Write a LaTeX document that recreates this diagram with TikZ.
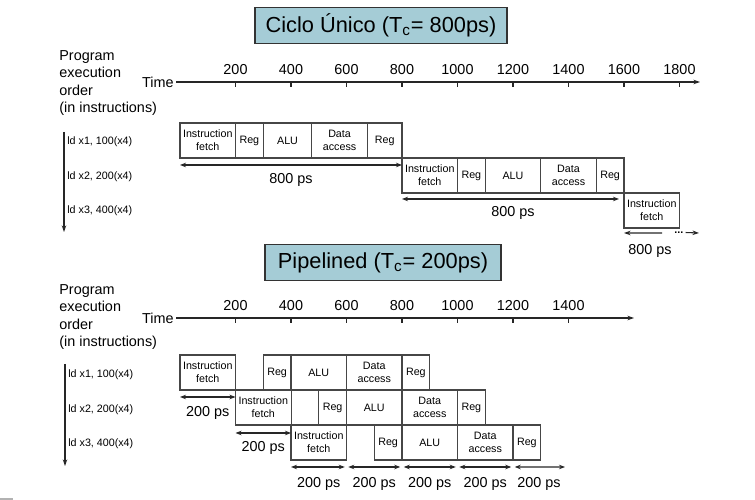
\documentclass[tikz,border=0pt]{standalone}
\usepackage{fontspec}
\setmainfont{Liberation Sans}
\usetikzlibrary{positioning,calc}
\usetikzlibrary{arrows.meta}
\definecolor{TitleBlue}{RGB}{165,204,214}
\definecolor{BoxGray}{RGB}{70,70,70}
\tikzset{
  stage/.style={draw=BoxGray,line width=0.6pt,inner sep=0pt,outer sep=0pt,minimum height=0.7cm,
    align=center,anchor=north west,font=\fontsize{6.1}{7.4}\selectfont},
  banner/.style={draw=black!80,fill=TitleBlue,line width=0.6pt,inner sep=0pt,minimum height=0.71cm,
    font=\fontsize{12.4}{14}\selectfont},
  lbl/.style={inner sep=0pt,font=\fontsize{8.2}{9.9}\selectfont},
  instr/.style={inner sep=0pt,anchor=west,font=\fontsize{6.1}{7.4}\selectfont},
}
\tikzset{tick/.style={draw=black!85,line width=0.6pt},
  axis/.style={draw=black!85,line width=0.6pt,-{Stealth[length=1.3mm,width=0.9mm]}},
  span/.style={draw=black!85,line width=0.6pt,{Stealth[length=1.2mm,width=0.9mm]}-{Stealth[length=1.2mm,width=0.9mm]}}}
\newcommand{\stg}[5]{\node[stage,minimum width={((#3)-(#2))*0.00555cm}] (#1) at ({180+0.2775*(#2)},#4) {#5};}

\begin{document}
\begin{tikzpicture}[x=0.02cm,y=-0.02cm]
\useasboundingbox (0,0) rectangle (755,500);
\node[banner,minimum width=5.04cm] (ttl1) at (381,25.5) {Ciclo Único (T\textsubscript{c}= 800ps)};
\node[banner,minimum width=4.72cm] (ttl2) at (383,262.5) {Pipelined (T\textsubscript{c}= 200ps)};

\node[lbl,align=left,anchor=west] (ord1) at (59,83) {Program\\execution\\order\\(in instructions)};
\node[lbl,anchor=east] (time1) at (174,82) {Time};
\coordinate (ax1) at (700,82);
\draw[axis] ([xshift=0.04cm]time1.east) -- (ax1);
\foreach \t in {200,400,...,1800} {
  \draw[tick] ({180+0.2775*\t},82) -- ++(0,5);
  \node[lbl] (u\t) at ({180+0.2775*\t},70) {\t};
}
\coordinate (o1a) at (64,132);
\coordinate (o1b) at (64,232);
\draw[axis] (o1a) -- (o1b);
\node[instr] (i1) at (67,142) {ld x1, 100(x4)};
\node[instr] (i2) at (67,177) {ld x2, 200(x4)};
\node[instr] (i3) at (67,211) {ld x3, 400(x4)};

\stg{s1-if}{0}{200}{123}{Instruction\\fetch}
\stg{s1-rd}{200}{300}{123}{Reg}
\stg{s1-alu}{300}{475}{123}{ALU}
\stg{s1-da}{475}{675}{123}{Data\\access}
\stg{s1-wb}{675}{800}{123}{Reg}
\stg{s2-if}{800}{1000}{158}{Instruction\\fetch}
\stg{s2-rd}{1000}{1100}{158}{Reg}
\stg{s2-alu}{1100}{1300}{158}{ALU}
\stg{s2-da}{1300}{1500}{158}{Data\\access}
\stg{s2-wb}{1500}{1600}{158}{Reg}
\stg{s3-if}{1600}{1800}{193}{Instruction\\fetch}

\draw[span] ([yshift=-0.14cm]s1-if.south west) -- ([yshift=-0.14cm]s1-wb.south east)
  node[lbl,midway,below=0.16cm] (d1) {800 ps};
\draw[span,shorten >=0.1cm] ([yshift=-0.12cm]s2-if.south west) -- ([yshift=-0.12cm]s2-wb.south east)
  node[lbl,midway,below=0.14cm] (d2) {800 ps};
\coordinate (c3a) at (662,233);
\coordinate (c3b) at (699,233);
\draw[axis] (c3a) -- ([yshift=-0.1cm]s3-if.south west);
\node[instr] (dots) at (674,232.5) {\textbf{...}};
\draw[axis] ([xshift=0.04cm]dots.east) -- (c3b);
\node[lbl] (d3) at (650,251) {800 ps};

\node[lbl,align=left,anchor=west] (ord2) at (59,317) {Program\\execution\\order\\(in instructions)};
\node[lbl,anchor=east] (time2) at (174,318) {Time};
\coordinate (ax2) at (634,318);
\draw[axis] ([xshift=0.04cm]time2.east) -- (ax2);
\foreach \t in {200,400,...,1400} {
  \draw[tick] ({180+0.2775*\t},318) -- ++(0,5);
  \node[lbl] (v\t) at ({180+0.2775*\t},306) {\t};
}
\coordinate (o2a) at (65,364);
\coordinate (o2b) at (65,466);
\draw[axis] (o2a) -- (o2b);
\node[instr] (j1) at (68,375) {ld x1, 100(x4)};
\node[instr] (j2) at (68,410) {ld x2, 200(x4)};
\node[instr] (j3) at (68,444) {ld x3, 400(x4)};

\foreach \i/\y in {1/355,2/390,3/425} {
  \pgfmathtruncatemacro{\o}{200*(\i-1)}
  \stg{p\i-if}{\o}{\o+200}{\y}{Instruction\\fetch}
  \stg{p\i-rd}{\o+300}{\o+400}{\y}{Reg}
  \stg{p\i-alu}{\o+400}{\o+600}{\y}{ALU}
  \stg{p\i-da}{\o+600}{\o+800}{\y}{Data\\access}
  \stg{p\i-wb}{\o+800}{\o+900}{\y}{Reg}
}

\draw[span] ([yshift=-0.14cm]p1-if.south west) -- ([yshift=-0.14cm]p1-if.south east)
  node[lbl,midway,below=0.17cm] (e1) {200 ps};
\draw[span] ([yshift=-0.16cm]p2-if.south west) -- ([yshift=-0.16cm]p2-if.south east)
  node[lbl,midway,below=0.16cm] (e2) {200 ps};
\coordinate (p3end) at (565,467);
\draw[span,shorten >=1pt] ([yshift=-0.14cm]p3-if.south west) -- ([yshift=-0.14cm]p3-if.south east)
  node[lbl,midway,below=0.2cm] (f1) {200 ps};
\draw[span,shorten <=1pt,shorten >=1pt] ([yshift=-0.14cm]p3-if.south east) -- ([yshift=-0.14cm]p3-rd.south east)
  node[lbl,midway,below=0.2cm] (f2) {200 ps};
\draw[span,shorten <=1pt,shorten >=1pt] ([yshift=-0.14cm]p3-alu.south west) -- ([yshift=-0.14cm]p3-alu.south east)
  node[lbl,midway,below=0.2cm] (f3) {200 ps};
\draw[span,shorten <=1pt,shorten >=1pt] ([yshift=-0.14cm]p3-da.south west) -- ([yshift=-0.14cm]p3-da.south east)
  node[lbl,midway,below=0.2cm] (f4) {200 ps};
\draw[span,shorten <=1pt] ([yshift=-0.14cm]p3-wb.south west) -- (p3end)
  node[lbl,midway,below=0.2cm] (f5) {200 ps};

\fill[gray!60] (0,497.5) rectangle (13,500);
\end{tikzpicture}
\end{document}
